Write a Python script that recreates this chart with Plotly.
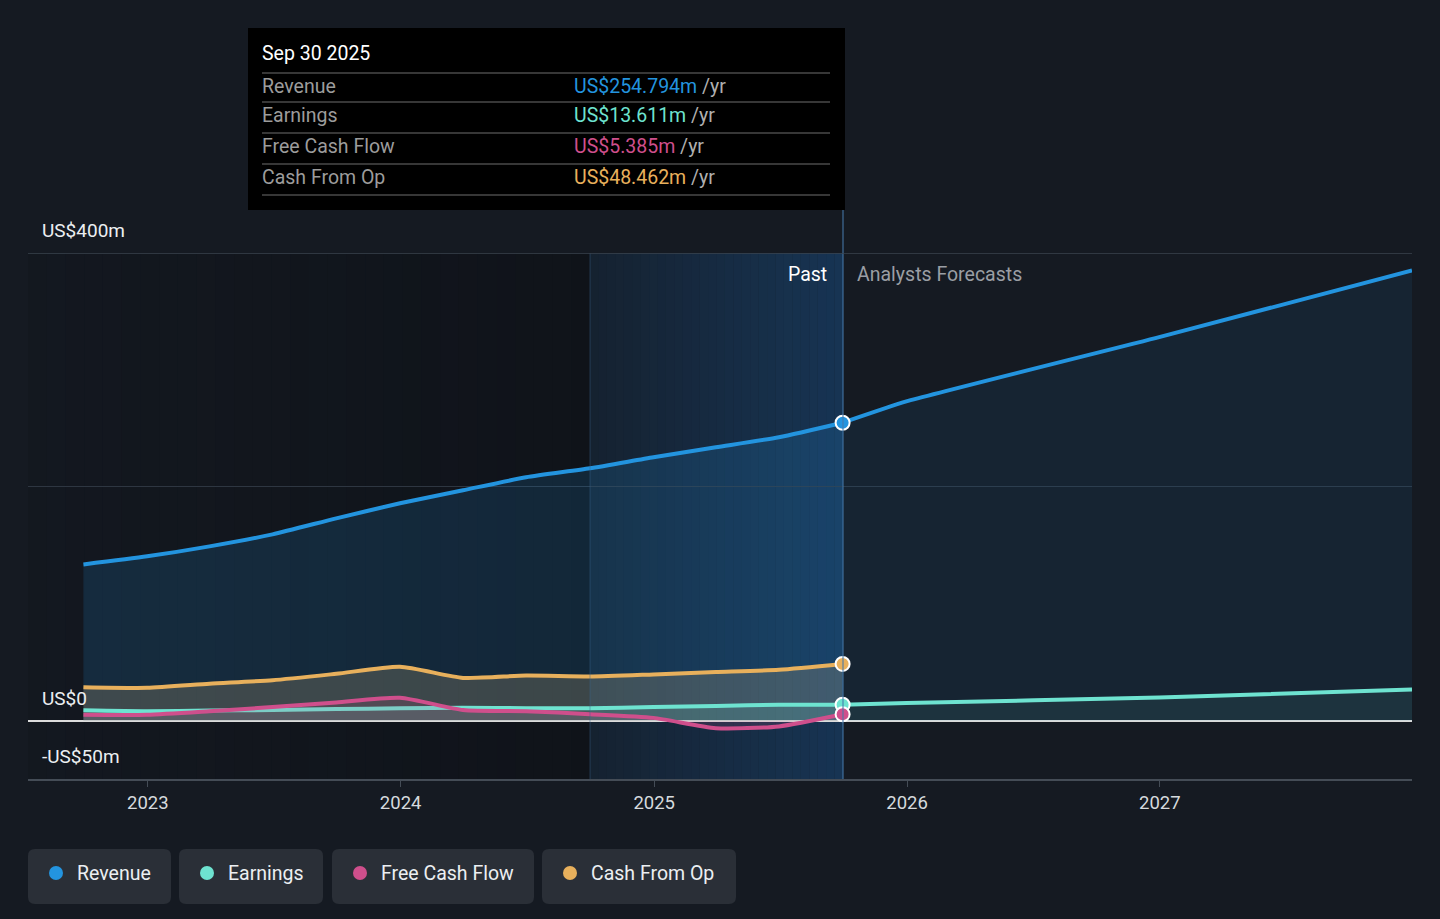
import plotly.graph_objects as go

# quarterly history (US$ m)
past_dates = ['2022-09-30', '2022-12-31', '2023-03-31', '2023-06-30', '2023-09-30',
              '2023-12-31', '2024-03-31', '2024-06-30', '2024-09-30', '2024-12-31',
              '2025-03-31', '2025-06-30', '2025-09-30']
revenue = [133.6, 140.5, 149.0, 159.3, 173.0, 185.9, 197.0, 208.1, 215.8, 225.3, 233.8, 242.4, 254.794]
earnings = [8.8, 8.0, 8.5, 9.0, 9.8, 10.5, 11.0, 10.5, 10.5, 11.5, 12.5, 13.5, 13.611]
free_cash_flow = [5.0, 5.0, 8.0, 11.5, 15.5, 19.5, 9.0, 8.0, 5.5, 2.3, -6.5, -5.0, 5.385]
cash_from_op = [28.5, 28.0, 31.5, 34.5, 40.0, 46.0, 36.5, 38.5, 37.7, 39.5, 41.5, 43.5, 48.462]

# analyst forecasts
fc_dates = ['2025-09-30', '2025-12-31', '2026-12-31', '2027-12-31']
revenue_fc = [254.794, 273.0, 328.0, 385.0]
earnings_fc = [13.611, 15.0, 19.7, 26.5]

BG = '#151a22'
BLUE = '#2394df'
TEAL = '#6ee3d0'
PINK = '#cf4f8c'
GOLD = '#e8b05c'
FONT = 'Roboto'
FS = 19.5

X0, X1, Y0, Y1 = 28, 1412, 253, 779


def px(x):
    return (x - X0) / (X1 - X0)


def py(y):
    return (Y1 - y) / (Y1 - Y0)


def rounded(x0, y0, x1, y1, r=7):
    a, b, c, d = px(x0), py(y0), px(x1), py(y1)
    rx, ry = r / (X1 - X0), r / (Y1 - Y0)
    return (f'M{a+rx},{b} L{c-rx},{b} Q{c},{b} {c},{b-ry} L{c},{d+ry} Q{c},{d} {c-rx},{d} '
            f'L{a+rx},{d} Q{a},{d} {a},{d+ry} L{a},{b-ry} Q{a},{b} {a+rx},{b} Z')


fig = go.Figure()

fig.add_trace(go.Scatter(x=past_dates, y=revenue, mode='lines', line=dict(color=BLUE, width=4, shape='spline', smoothing=0.6),
                         fill='tozeroy', fillcolor='rgba(35,148,223,0.16)', hoverinfo='skip'))
fig.add_trace(go.Scatter(x=fc_dates, y=revenue_fc, mode='lines', line=dict(color=BLUE, width=4, shape='spline', smoothing=0.4),
                         fill='tozeroy', fillcolor='rgba(35,148,223,0.09)', hoverinfo='skip'))
fig.add_trace(go.Scatter(x=past_dates, y=cash_from_op, mode='lines', line=dict(color=GOLD, width=4, shape='spline', smoothing=0.6),
                         fill='tozeroy', fillcolor='rgba(210,180,130,0.22)', hoverinfo='skip'))
fig.add_trace(go.Scatter(x=past_dates, y=earnings, mode='lines', line=dict(color=TEAL, width=4, shape='spline', smoothing=0.6),
                         fill='tozeroy', fillcolor='rgba(110,227,208,0.15)', hoverinfo='skip'))
fig.add_trace(go.Scatter(x=fc_dates, y=earnings_fc, mode='lines', line=dict(color=TEAL, width=4, shape='spline', smoothing=0.4),
                         fill='tozeroy', fillcolor='rgba(110,227,208,0.08)', hoverinfo='skip'))
fig.add_trace(go.Scatter(x=past_dates, y=free_cash_flow, mode='lines', line=dict(color=PINK, width=4, shape='spline', smoothing=0.6),
                         fill='tozeroy', fillcolor='rgba(207,79,140,0.15)', hoverinfo='skip'))

# end-of-history markers
for series, col in [(cash_from_op, GOLD), (earnings, TEAL), (free_cash_flow, PINK), (revenue, BLUE)]:
    fig.add_trace(go.Scatter(x=[past_dates[-1]], y=[series[-1]], mode='markers',
                             marker=dict(size=14, color=col, line=dict(color='white', width=2)), hoverinfo='skip'))

shapes = []
# darker past background with soft gradient
steps = 30
for i in range(steps):
    xa = X0 + (590 - X0) * i / steps
    xb = X0 + (590 - X0) * (i + 1) / steps
    shapes.append(dict(type='rect', xref='paper', yref='paper', x0=px(xa), x1=px(xb), y0=0, y1=1,
                       fillcolor=f'rgba(8,10,14,{0.1 + 0.3 * i / steps:.3f})', line_width=0, layer='below'))
# highlighted last year
for i in range(steps):
    xa = 590 + (843 - 590) * i / steps
    xb = 590 + (843 - 590) * (i + 1) / steps
    shapes.append(dict(type='rect', xref='paper', yref='paper', x0=px(xa), x1=px(xb), y0=0, y1=1,
                       fillcolor=f'rgba(26,80,135,{0.15 + 0.35 * i / steps:.3f})', line_width=0, layer='below'))
shapes.append(dict(type='line', xref='paper', yref='paper', x0=px(590), x1=px(590), y0=0, y1=1,
                   line=dict(color='rgba(60,100,140,0.45)', width=1)))
shapes.append(dict(type='line', xref='paper', yref='paper', x0=px(843), x1=px(843), y0=0, y1=py(210),
                   line=dict(color='rgba(70,120,170,0.7)', width=1.5)))
# top gridline (sits on the plot edge)
shapes.append(dict(type='line', xref='paper', yref='y', x0=0, x1=1, y0=400, y1=400,
                   line=dict(color='#3a434e', width=1.5)))

# tooltip box
shapes.append(dict(type='rect', xref='paper', yref='paper', x0=px(248), x1=px(845), y0=py(28), y1=py(210),
                   fillcolor='#000000', line_width=0, layer='above'))
for ly in [73, 102, 133, 164, 195]:
    shapes.append(dict(type='line', xref='paper', yref='paper', x0=px(262), x1=px(830), y0=py(ly), y1=py(ly),
                       line=dict(color='#4a4a4a', width=1.5), layer='above'))

# legend pills
legend_items = [('Revenue', BLUE, 28, 171), ('Earnings', TEAL, 179, 323),
                ('Free Cash Flow', PINK, 332, 534), ('Cash From Op', GOLD, 542, 736)]
annotations = []
for name, col, a, b in legend_items:
    shapes.append(dict(type='path', xref='paper', yref='paper', path=rounded(a, 849, b, 904),
                       fillcolor='#2a2f37', line_width=0))
    shapes.append(dict(type='circle', xref='paper', yref='paper', x0=px(a + 21), x1=px(a + 35),
                       y0=py(880), y1=py(866), fillcolor=col, line_width=0))
    annotations.append(dict(x=px(a + 47), y=py(873), xref='paper', yref='paper', text=name, showarrow=False,
                            xanchor='left', yanchor='middle', font=dict(family=FONT, size=FS, color='#eceff2')))

# tooltip text
annotations.append(dict(x=px(260), y=py(54), xref='paper', yref='paper', text='Sep 30 2025', showarrow=False,
                        xanchor='left', yanchor='middle', font=dict(family=FONT, size=FS, color='#ffffff')))
rows = [('Revenue', 'US$254.794m', BLUE, 86), ('Earnings', 'US$13.611m', TEAL, 116),
        ('Free Cash Flow', 'US$5.385m', PINK, 147), ('Cash From Op', 'US$48.462m', GOLD, 177)]
for label, val, col, ry in rows:
    annotations.append(dict(x=px(260), y=py(ry), xref='paper', yref='paper', text=label, showarrow=False,
                            xanchor='left', yanchor='middle', font=dict(family=FONT, size=FS, color='#9c9c9c')))
    annotations.append(dict(x=px(572), y=py(ry), xref='paper', yref='paper',
                            text=f"<span style='color:{col}'>{val}</span> /yr", showarrow=False,
                            xanchor='left', yanchor='middle', font=dict(family=FONT, size=FS, color='#b0b0b0')))

# y labels above gridlines
for txt, yv in [('US$400m', 400), ('US$0', 0), ('-US$50m', -50)]:
    annotations.append(dict(x=px(40), y=yv, xref='paper', yref='y', text=txt, showarrow=False,
                            xanchor='left', yanchor='bottom', yshift=9, font=dict(family=FONT, size=19, color='#eceff2')))

annotations.append(dict(x=px(829), y=py(274), xref='paper', yref='paper', text='Past', showarrow=False,
                        xanchor='right', yanchor='middle', font=dict(family=FONT, size=FS, color='#ffffff')))
annotations.append(dict(x=px(855), y=py(274), xref='paper', yref='paper', text='Analysts Forecasts', showarrow=False,
                        xanchor='left', yanchor='middle', font=dict(family=FONT, size=FS, color='#9a9ea4')))

fig.update_layout(
    width=1440, height=919,
    margin=dict(l=X0, r=1440 - X1, t=Y0, b=919 - Y1),
    paper_bgcolor=BG, plot_bgcolor=BG,
    showlegend=False,
    shapes=shapes, annotations=annotations,
    font=dict(family=FONT),
)
fig.update_xaxes(type='date', range=['2022-07-12', '2027-12-31'], showgrid=False, zeroline=False,
                 tickformat='%Y', dtick='M12', tick0='2023-01-01', ticks='outside', ticklen=6,
                 tickcolor='#444c56', showline=True, linecolor='#444c56', linewidth=1.5,
                 tickfont=dict(family=FONT, size=18.5, color='#d6dade'))
fig.update_yaxes(range=[-50, 400], tickvals=[200, 400], showticklabels=False, showgrid=True,
                 gridcolor='#2e3641', gridwidth=1, zeroline=True, zerolinecolor='#dcdcdc', zerolinewidth=2,
                 showline=False)

fig.write_html('out.html', config={'displayModeBar': False},
               post_script="document.body.style.margin='0';document.body.style.background='%s';" % BG)
